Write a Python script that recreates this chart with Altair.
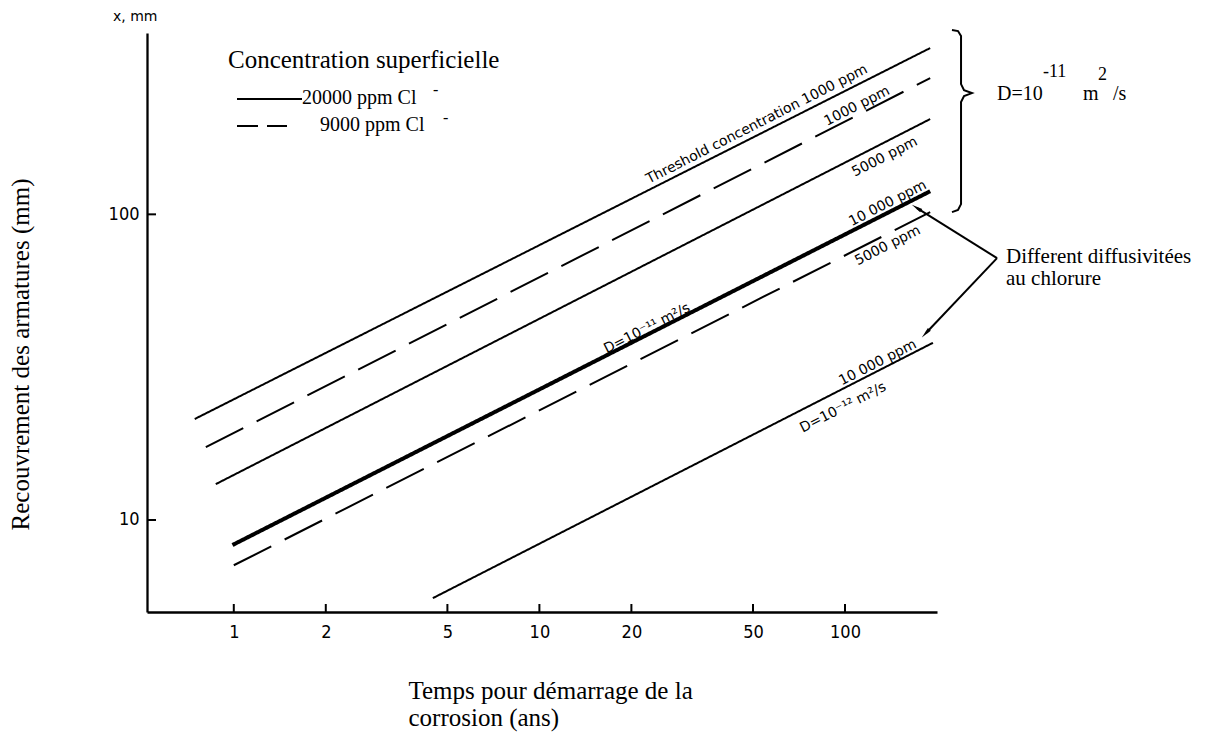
import altair as alt
import pandas as pd

# ---------------- values ----------------
series = ["seuil_20000", "seuil_9000", "5000_20000", "10000_20000", "5000_9000", "10000_D12"]
style = ["solid", "dashed", "solid", "solid", "dashed", "solid"]
weight = ["thin", "thin", "thin", "thick", "thin", "thin"]
t_start = [0.745, 0.81, 0.873, 0.99, 1.0, 4.48]      # years
t_end = [190, 190, 190, 190, 190, 194]
cover_start = [21.4, 17.3, 13.1, 8.28, 7.11, 5.55]   # mm
cover_end = [350, 279, 205, 119, 101.6, 38]

x_ticks = [1, 2, 5, 10, 20, 50, 100]
y_ticks = [10, 100]

# labels written along the lines (data coordinates of their centres)
lab_text = ["Threshold concentration  1000 ppm", "1000 ppm", "5000 ppm", "10 000 ppm",
            "5000 ppm", "D=10⁻¹¹ m²/s", "10 000 ppm", "D=10⁻¹² m²/s"]
lab_t = [51.5, 109.5, 135, 138, 138, 22.5, 128, 98.5]
lab_c = [197, 226, 154, 108.6, 79, 42.3, 32.7, 23.3]

# brace and arrows (data coordinates)
brace_t = [223.9, 234.3, 239.7, 239.7, 245.2, 260.3, 245.2, 239.7, 239.7, 234.3, 223.9]
brace_c = [400.7, 397.7, 383, 266.8, 255, 249.3, 243.7, 233, 108, 103.3, 101.7]
arrow_id = ["a", "a", "b", "b"]
arrow_t = [314.4, 172.1, 314.4, 184.1]
arrow_c = [71.9, 104.8, 71.9, 40.9]
head_t = [172.1, 184.1]
head_c = [104.8, 40.9]
head_angle = [302, 223]

# ---------------- chart ----------------
W, H = 790, 579
xs = alt.Scale(type="log", domain=[0.52, 200], nice=False)
ys = alt.Scale(type="log", domain=[5, 392], nice=False)

rows = []
for i, s in enumerate(series):
    rows.append({"series": s, "style": style[i], "weight": weight[i], "t": t_start[i], "cover": cover_start[i]})
    rows.append({"series": s, "style": style[i], "weight": weight[i], "t": t_end[i], "cover": cover_end[i]})
lines_df = pd.DataFrame(rows)

x_axis = alt.Axis(
    values=x_ticks, format="d", ticks=False, tickSize=0, grid=False,
    labelPadding=11, labelFont="DejaVu Sans Condensed", labelFontSize=18, labelColor="black",
    labelFlush=False, labelOverlap=False,
    domainColor="black", domainWidth=2.3,
    title=["Temps pour démarrage de la", "corrosion (ans)"],
    titleFont="Liberation Serif", titleFontSize=25, titleFontWeight="normal", titleColor="black",
    titleX=261, titleY=86, titleAlign="left", titleBaseline="alphabetic", titleLineHeight=27,
)
y_axis = alt.Axis(
    values=y_ticks, format="d", ticks=False, tickSize=0, grid=False,
    labelPadding=8, labelFont="DejaVu Sans Condensed", labelFontSize=18, labelColor="black",
    labelFlush=False, labelOverlap=False,
    domainColor="black", domainWidth=2.3,
    title="Recouvrement des armatures (mm)",
    titleFont="Liberation Serif", titleFontSize=25, titleFontWeight="normal", titleColor="black",
    titleAngle=270, titleX=-127, titleY=321, titleAlign="center", titleBaseline="middle",
)

X = alt.X("t:Q", scale=xs, axis=x_axis)
Y = alt.Y("cover:Q", scale=ys, axis=y_axis)

lines = alt.Chart(lines_df).mark_line(color="black", strokeCap="butt").encode(
    x=X, y=Y,
    detail="series:N",
    strokeDash=alt.StrokeDash("style:N", scale=alt.Scale(domain=["solid", "dashed"], range=[[1, 0], [42, 15]]), legend=None),
    strokeWidth=alt.StrokeWidth("weight:N", scale=alt.Scale(domain=["thin", "thick"], range=[2, 4]), legend=None),
)

xt = alt.Chart(pd.DataFrame({"t": x_ticks})).mark_rule(color="black", strokeWidth=2).encode(
    x=X, y=alt.value(H), y2=alt.value(H - 8))
yt = alt.Chart(pd.DataFrame({"cover": y_ticks})).mark_rule(color="black", strokeWidth=2).encode(
    y=Y, x=alt.value(0), x2=alt.value(9))

labels = alt.Chart(pd.DataFrame({"text": lab_text, "t": lab_t, "cover": lab_c})).mark_text(
    font="DejaVu Sans", fontSize=14, angle=333, align="center", baseline="middle", color="black"
).encode(x=X, y=Y, text="text:N")

brace = alt.Chart(pd.DataFrame({"t": brace_t, "cover": brace_c, "o": list(range(len(brace_t)))})).mark_line(
    color="black", strokeWidth=2
).encode(x=X, y=Y, order="o:Q")

arrows = alt.Chart(pd.DataFrame({"id": arrow_id, "t": arrow_t, "cover": arrow_c})).mark_line(
    color="black", strokeWidth=2
).encode(x=X, y=Y, detail="id:N")

heads = alt.Chart(pd.DataFrame({"t": head_t, "cover": head_c, "ang": head_angle})).mark_point(
    shape="M0,-1L0.32,0.8L-0.32,0.8Z", filled=True, size=150, color="black", opacity=1
).encode(x=X, y=Y, angle=alt.Angle("ang:Q", scale=None))

one = pd.DataFrame({"k": [0]})


def txt(s, x, y, size, font="Liberation Serif", align="left", baseline="alphabetic"):
    return alt.Chart(one).mark_text(text=s, font=font, fontSize=size, align=align,
                                    baseline=baseline, color="black").encode(x=alt.value(x), y=alt.value(y))


def seg(x1, x2, y, dash=None):
    kw = {"color": "black", "strokeWidth": 2}
    if dash:
        kw["strokeDash"] = dash
    return alt.Chart(one).mark_rule(**kw).encode(x=alt.value(x1), x2=alt.value(x2), y=alt.value(y))


annot = [
    txt("x, mm", -34, -12, 14, font="DejaVu Sans"),
    txt("Concentration superficielle", 81, 35, 25),
    seg(90, 155, 66),
    txt("20000 ppm Cl", 155, 71, 20),
    txt("-", 286, 57, 16, baseline="middle"),
    seg(90, 140, 93, dash=[21, 9]),
    txt("9000 ppm Cl", 173, 98, 20),
    txt("-", 296, 85, 16, baseline="middle"),
    txt("D=10", 850, 67, 20),
    txt("-11", 896, 44, 18),
    txt("m", 936, 67, 20),
    txt("2", 951, 47, 18),
    txt("/s", 966, 67, 20),
    txt("Different diffusivitées", 859, 230, 21),
    txt("au chlorure", 859, 252, 21),
]

chart = alt.layer(lines, xt, yt, labels, brace, arrows, heads, *annot).properties(
    width=W, height=H,
    padding={"left": 147, "top": 33, "right": 1216 - 147 - W, "bottom": 734 - 33 - H},
    autosize=alt.AutoSizeParams(type="none"),
    background="white",
).configure_view(stroke=None)

chart.save("out.html", embed_options={"renderer": "svg", "actions": False})
